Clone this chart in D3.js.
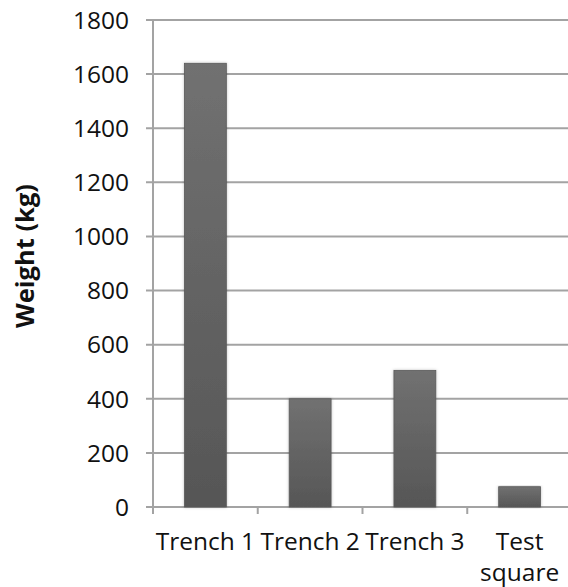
<!DOCTYPE html>
<html><head><meta charset="utf-8">
<script src="https://cdn.jsdelivr.net/npm/d3@7"></script>
<style>
html,body{margin:0;padding:0;background:#fff;}
text{font-family:"Open Sans",sans-serif;fill:#111;}
</style></head>
<body>
<svg id="chart" width="568" height="587"></svg>
<script>
const categories = ["Trench 1", "Trench 2", "Trench 3", "Test square"];
const weights = [1640, 400, 505, 75];
const yTicks = [0, 200, 400, 600, 800, 1000, 1200, 1400, 1600, 1800];
const yTitle = "Weight (kg)";

const svg = d3.select("#chart");
const defs = svg.append("defs");
const grad = defs.append("linearGradient").attr("id","barGrad")
  .attr("x1",0).attr("y1",0).attr("x2",0).attr("y2",1);
grad.append("stop").attr("offset","0%").attr("stop-color","#717171");
grad.append("stop").attr("offset","100%").attr("stop-color","#565656");
const f = defs.append("filter").attr("id","shadow").attr("x","-20%").attr("y","-5%").attr("width","140%").attr("height","110%");
f.append("feDropShadow").attr("dx",0).attr("dy",0).attr("stdDeviation",1.5).attr("flood-color","#000").attr("flood-opacity",0.25);

const x0 = 153, x1 = 572, yBottom = 507, yTop = 20;
const x = d3.scaleBand().domain(categories).range([x0, x1]).paddingInner(0.6).paddingOuter(0.3);
const y = d3.scaleLinear().domain([0, 1800]).range([yBottom, yTop]);

// gridlines
svg.append("g").selectAll("line").data(yTicks).join("line")
  .attr("x1", x0 - 7).attr("x2", 568)
  .attr("y1", d => y(d)).attr("y2", d => y(d))
  .attr("stroke", "#a3a3a3").attr("stroke-width", 2);

// y axis line
svg.append("line").attr("x1", x0).attr("x2", x0).attr("y1", yTop - 1).attr("y2", yBottom + 1)
  .attr("stroke", "#a3a3a3").attr("stroke-width", 2);

// x tick marks at category boundaries
const step = x.step();
const bounds = categories.map((c, i) => x0 + i * step);
svg.append("g").selectAll("line").data(bounds).join("line")
  .attr("x1", d => d).attr("x2", d => d)
  .attr("y1", yBottom).attr("y2", yBottom + 7)
  .attr("stroke", "#a3a3a3").attr("stroke-width", 2);

// y tick labels
svg.append("g").selectAll("text").data(yTicks).join("text")
  .attr("x", 129).attr("y", d => y(d)).attr("dy", "0.36em")
  .attr("text-anchor", "end").attr("font-size", 24.5)
  .text(d => d);

// bars
svg.append("g").selectAll("rect").data(categories).join("rect")
  .attr("x", d => x(d)).attr("width", x.bandwidth())
  .attr("y", (d, i) => y(weights[i]))
  .attr("height", (d, i) => y(0) - y(weights[i]))
  .attr("fill", "url(#barGrad)")
  .attr("stroke", "#5a5a5a").attr("stroke-width", 0.8)
  .attr("filter", "url(#shadow)");

// x labels
const xl = svg.append("g").selectAll("text").data(categories).join("text")
  .attr("x", d => x(d) + x.bandwidth() / 2)
  .attr("y", 550)
  .attr("text-anchor", "middle").attr("font-size", 24.5);
xl.each(function(d) {
  const t = d3.select(this);
  const words = d === "Test square" ? ["Test", "square"] : [d];
  words.forEach((w, i) => {
    t.append("tspan").attr("x", x(d) + x.bandwidth() / 2).attr("dy", i === 0 ? 0 : 31).text(w);
  });
});

// y title
svg.append("text")
  .attr("transform", "translate(34," + 256 + ") rotate(-90)")
  .attr("text-anchor", "middle").attr("font-size", 25.5).attr("font-weight", "bold")
  .text(yTitle);
</script>
</body></html>
